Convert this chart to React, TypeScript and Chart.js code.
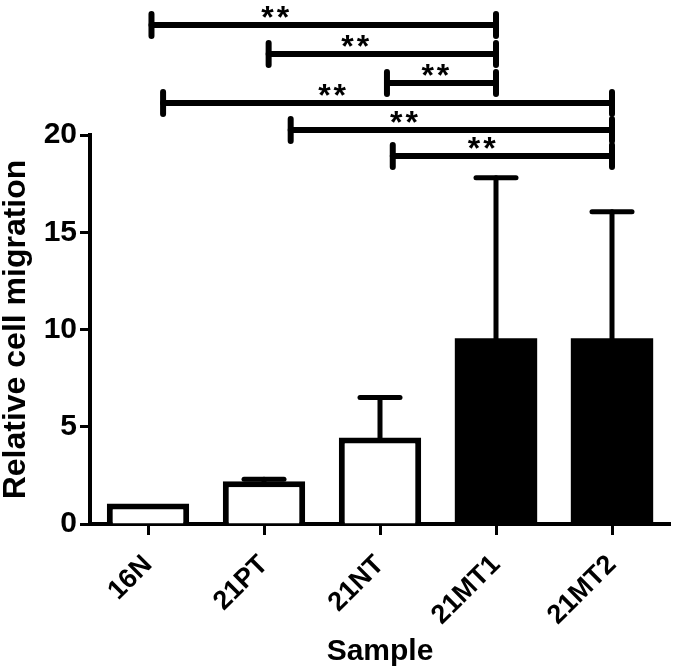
import React, { useEffect, useRef } from "react";
import { Chart, registerables } from "chart.js";

Chart.register(...registerables);

const categories = ["16N", "21PT", "21NT", "21MT1", "21MT2"];
const migration = [1.05, 2.2, 4.45, 9.55, 9.55];
const errorUp = [0, 0.1, 2.05, 8.25, 6.5];
const barFill = ["#ffffff", "#ffffff", "#ffffff", "#000000", "#000000"];
const yTicks = [0, 5, 10, 15, 20];

// significance brackets (positions in category index units, levels in data units)
const bracketFrom = [0.03, 1.04, 2.06, 0.13, 1.23, 2.11];
const bracketTo = [3, 3, 3, 4, 4, 4];
const bracketLevel = [25.66, 24.16, 22.67, 21.65, 20.26, 18.92];
const bracketLabelAt = [1.11, 1.8, 2.49, 1.6, 2.22, 2.89];
const bracketLabel = ["**", "**", "**", "**", "**", "**"];

const FONT = "'Liberation Sans', Arial, Helvetica, sans-serif";

const overlayPlugin = {
  id: "overlay",
  afterDatasetsDraw(chart: any) {
    const ctx = chart.ctx;
    const xs = chart.scales.x;
    const ys = chart.scales.y;
    const meta = chart.getDatasetMeta(0);
    ctx.save();
    ctx.strokeStyle = "#000";
    ctx.lineCap = "round";
    // error bars (upper only)
    ctx.lineWidth = 5;
    meta.data.forEach((bar: any, i: number) => {
      if (!errorUp[i]) return;
      const x = bar.x;
      const yb = ys.getPixelForValue(migration[i]);
      const yt = ys.getPixelForValue(migration[i] + errorUp[i]);
      ctx.beginPath();
      ctx.moveTo(x, yb);
      ctx.lineTo(x, yt);
      ctx.stroke();
      ctx.beginPath();
      ctx.moveTo(x - 20, yt);
      ctx.lineTo(x + 20, yt);
      ctx.stroke();
    });
    // brackets
    ctx.lineWidth = 6;
    for (let i = 0; i < bracketFrom.length; i++) {
      const x1 = xs.getPixelForValue(bracketFrom[i]);
      const x2 = xs.getPixelForValue(bracketTo[i]);
      const y = ys.getPixelForValue(bracketLevel[i]);
      ctx.beginPath();
      ctx.moveTo(x1, y);
      ctx.lineTo(x2, y);
      ctx.stroke();
      ctx.beginPath();
      ctx.moveTo(x1, y - 11);
      ctx.lineTo(x1, y + 11);
      ctx.moveTo(x2, y - 11);
      ctx.lineTo(x2, y + 11);
      ctx.stroke();
      ctx.fillStyle = "#000";
      ctx.font = `bold 32px ${FONT}`;
      ctx.textAlign = "center";
      ctx.textBaseline = "alphabetic";
      (ctx as any).letterSpacing = "3px";
      ctx.fillText(bracketLabel[i], xs.getPixelForValue(bracketLabelAt[i]), y + 3);
    }
    ctx.restore();
  },
};

export default function App() {
  const ref = useRef<HTMLCanvasElement | null>(null);
  useEffect(() => {
    document.body.style.margin = "0";
    const chart = new Chart(ref.current as HTMLCanvasElement, {
      type: "bar",
      data: {
        labels: categories,
        datasets: [
          {
            data: migration,
            backgroundColor: barFill,
            borderColor: "#000",
            borderWidth: [6, 6, 6, 0, 0],
            barPercentage: 0.71,
            categoryPercentage: 1,
          },
        ],
      },
      options: {
        animation: false,
        responsive: true,
        maintainAspectRatio: false,
        layout: { padding: { top: 135, right: 5, left: 0, bottom: 0 } },
        plugins: { legend: { display: false }, tooltip: { enabled: false } },
        scales: {
          x: {
            offset: true,
            grid: {
              display: true,
              offset: false,
              drawOnChartArea: false,
              drawTicks: true,
              tickLength: 11,
              tickWidth: 3,
              tickColor: "#000",
            },
            border: { display: true, color: "#000", width: 4 },
            ticks: {
              color: "#000",
              font: { family: FONT, size: 27, weight: "bold" },
              minRotation: 45,
              maxRotation: 45,
              padding: 14,
            },
            title: {
              display: true,
              text: "Sample",
              color: "#000",
              font: { family: FONT, size: 30, weight: "bold", lineHeight: 1 },
              padding: { top: 0, bottom: 4 },
            },
            afterFit: (s: any) => {
              s.height = 147;
            },
          },
          y: {
            min: 0,
            max: 20,
            afterBuildTicks: (s: any) => {
              s.ticks = yTicks.map((v) => ({ value: v }));
            },
            grid: {
              display: true,
              drawOnChartArea: false,
              drawTicks: true,
              tickLength: 10,
              tickWidth: 3,
              tickColor: "#000",
            },
            border: { display: true, color: "#000", width: 4 },
            ticks: {
              color: "#000",
              font: { family: FONT, size: 30, weight: "bold" },
              padding: 3,
            },
            title: {
              display: true,
              text: "Relative cell migration",
              color: "#000",
              font: { family: FONT, size: 32, weight: "bold", lineHeight: 1 },
              padding: { top: 0, bottom: 0 },
            },
            afterFit: (s: any) => {
              s.width = 90;
            },
          },
        },
      },
      plugins: [overlayPlugin],
    });
    return () => chart.destroy();
  }, []);
  return (
    <div style={{ width: 675, height: 671, position: "relative" }}>
      <canvas ref={ref} />
    </div>
  );
}
